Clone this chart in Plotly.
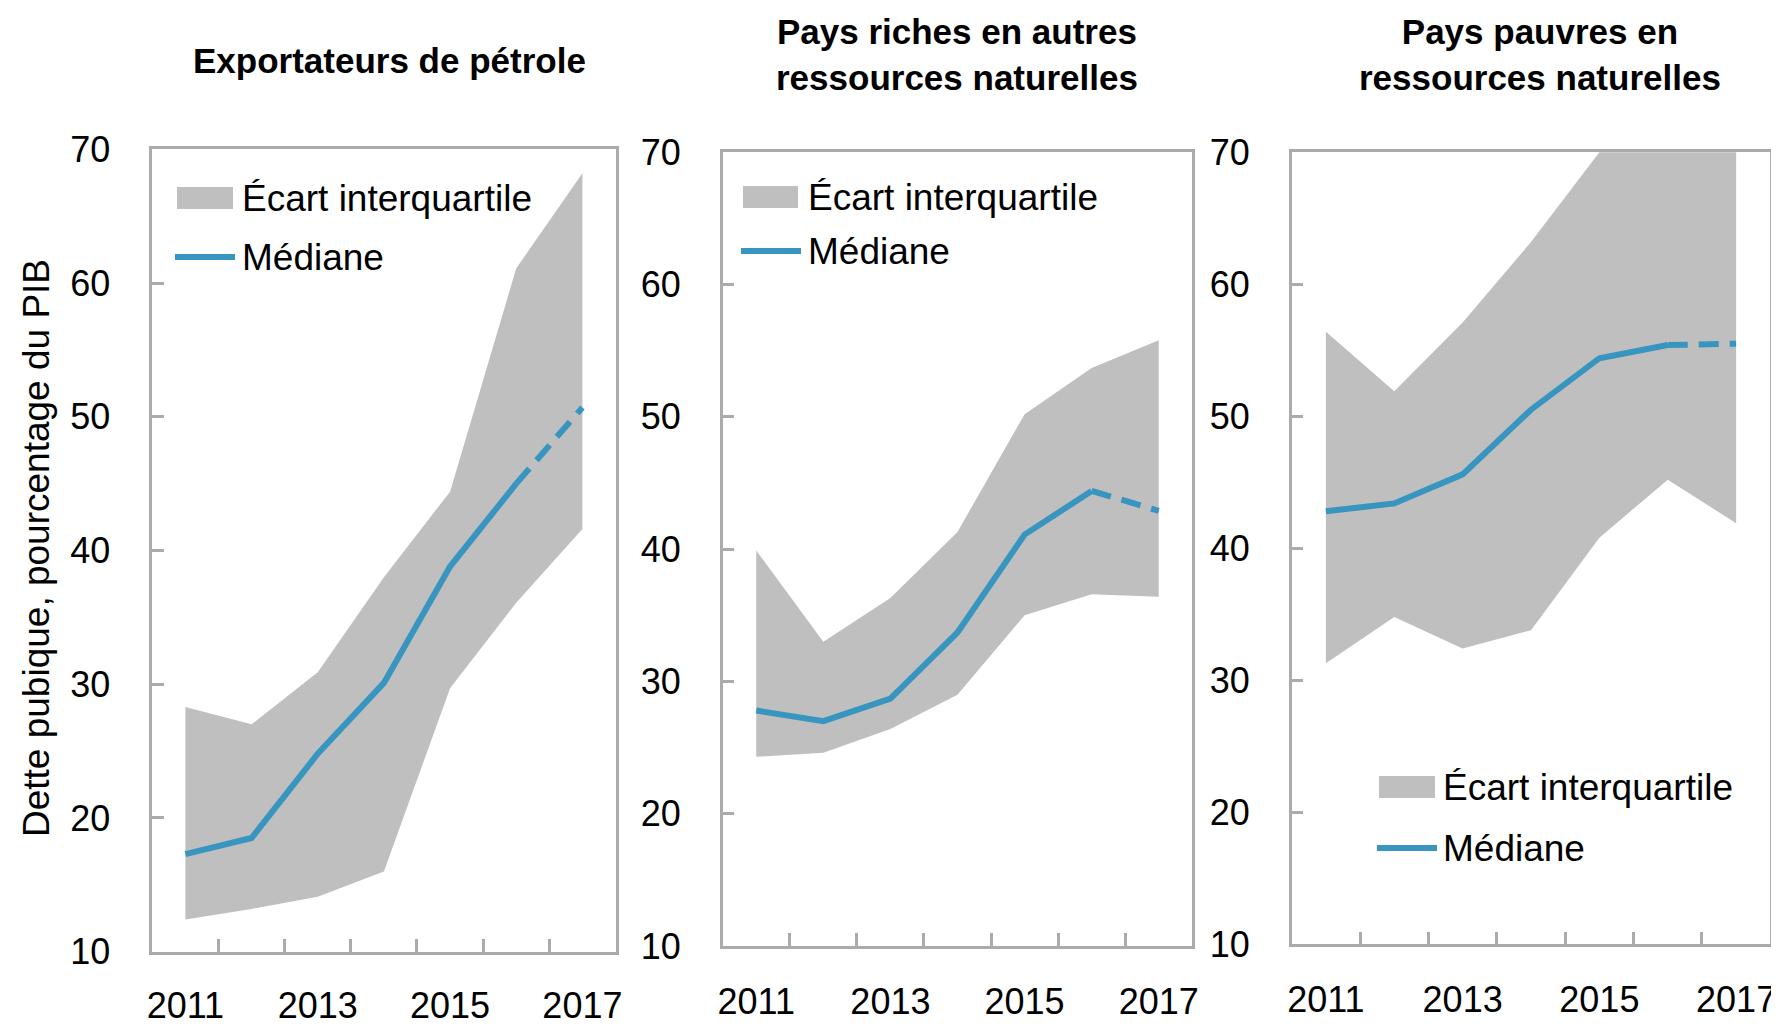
import plotly.graph_objects as go

# page body has an 8px margin: the figure is drawn from (8, 8)
OFF = 8
PAGE_W, PAGE_H = 1779, 1027
W, H = PAGE_W - OFF, PAGE_H - OFF

years = [2011, 2012, 2013, 2014, 2015, 2016, 2017]
year_labels = [2011, 2013, 2015, 2017]
y_ticks = [10, 20, 30, 40, 50, 60, 70]

titles = ["Exportateurs de pétrole",
          "Pays riches en autres<br>ressources naturelles",
          "Pays pauvres en<br>ressources naturelles"]

# Panel 1 : exportateurs de pétrole
oil_median = [17.3, 18.5, 24.8, 30.1, 38.8, 45.0, 50.7]
oil_q75 = [28.3, 27.0, 30.9, 38.0, 44.4, 61.1, 68.2]
oil_q25 = [12.4, 13.2, 14.1, 16.0, 29.7, 36.1, 41.6]

# Panel 2 : riches en autres ressources naturelles
rich_median = [27.8, 27.0, 28.7, 33.7, 41.1, 44.4, 42.9]
rich_q75 = [39.9, 33.0, 36.3, 41.3, 50.2, 53.7, 55.8]
rich_q25 = [24.3, 24.6, 26.4, 29.0, 35.0, 36.6, 36.4]

# Panel 3 : pauvres en ressources naturelles
poor_median = [42.8, 43.4, 45.6, 50.5, 54.4, 55.4, 55.5]
poor_q75 = [56.4, 51.9, 57.1, 63.2, 70.0, 76.0, 80.0]
poor_q25 = [31.3, 34.8, 32.4, 33.8, 40.8, 45.2, 41.9]

legend_labels = ["Écart interquartile", "Médiane"]
y_title = "Dette pubique, pourcentage du PIB"

panels = [
    (oil_median, oil_q75, oil_q25),
    (rich_median, rich_q75, rich_q25),
    (poor_median, poor_q75, poor_q25),
]

# page-pixel boxes of the three plot areas: (left, right, top, bottom)
boxes = [(152.3, 615.5, 149.3, 951.7),
         (722.7, 1192.3, 152.3, 946.0),
         (1291.7, 1770.3, 152.3, 944.3)]
x_label_standoff = [20, 22, 22]

# legend placement per panel (page pixels)
legend_pos = [
    dict(sx0=177, sx1=233, sy=198, ly=257, tx=240, lx0=175, lx1=235),
    dict(sx0=743, sx1=798, sy=197, ly=251, tx=806, lx0=741, lx1=801),
    dict(sx0=1379, sx1=1435, sy=787, ly=848, tx=1441, lx0=1377, lx1=1437),
]

# title centres (x, y) in page pixels
title_pos = [(389, 60), (957, 55), (1540, 54)]

FILL = "#BFBFBF"
BLUE = "#3795BF"
FRAME = "#ABABAB"
FONT = "Liberation Sans, Arial, sans-serif"

def px(x):
    return (x - OFF) / W

def py(y):
    return 1 - (y - OFF) / H

fig = go.Figure()
shapes = []
annotations = []

for i, (med, q75, q25) in enumerate(panels):
    n = i + 1
    xa = "x" if n == 1 else f"x{n}"
    ya = "y" if n == 1 else f"y{n}"
    fig.add_trace(go.Scatter(x=years, y=q25, mode="lines", line=dict(width=0, color=FILL),
                             xaxis=xa, yaxis=ya, showlegend=False, hoverinfo="skip"))
    fig.add_trace(go.Scatter(x=years, y=q75, mode="lines", line=dict(width=0, color=FILL),
                             fill="tonexty", fillcolor=FILL, xaxis=xa, yaxis=ya,
                             showlegend=False, name=legend_labels[0]))
    fig.add_trace(go.Scatter(x=years[:6], y=med[:6], mode="lines",
                             line=dict(width=6, color=BLUE), xaxis=xa, yaxis=ya,
                             showlegend=False, name=legend_labels[1]))
    fig.add_trace(go.Scatter(x=years[5:], y=med[5:], mode="lines",
                             line=dict(width=6, color=BLUE, dash="20px,11px"),
                             xaxis=xa, yaxis=ya, showlegend=False, name=legend_labels[1]))

    l, r, t, b = boxes[i]
    xkey = "xaxis" if n == 1 else f"xaxis{n}"
    ykey = "yaxis" if n == 1 else f"yaxis{n}"
    fig.update_layout(**{
        xkey: dict(domain=[px(l), px(r)], range=[2010.5, 2017.5], anchor=ya,
                   automargin=False,
                   tickvals=year_labels, ticktext=[str(v) for v in year_labels],
                   ticks="", showgrid=False, zeroline=False,
                   showline=True, mirror=True, linecolor=FRAME, linewidth=2.5,
                   tickfont=dict(family=FONT, size=36, color="#000"),
                   ticklabelstandoff=x_label_standoff[i],
                   minor=dict(tickmode="array",
                              tickvals=[2011.5, 2012.5, 2013.5, 2014.5, 2015.5, 2016.5],
                              ticks="inside", ticklen=13, tickwidth=2.5, tickcolor=FRAME,
                              showgrid=False)),
        ykey: dict(domain=[py(b), py(t)], range=[10, 70], anchor=xa,
                   automargin=False,
                   tickvals=y_ticks, ticks="inside", ticklen=12, tickwidth=2.5,
                   tickcolor=FRAME, showgrid=False, zeroline=False,
                   showline=True, mirror=True, linecolor=FRAME, linewidth=2.5,
                   tickfont=dict(family=FONT, size=36, color="#000"),
                   ticklabelstandoff=32),
    })

    lp = legend_pos[i]
    shapes.append(dict(type="rect", xref="paper", yref="paper",
                       x0=px(lp["sx0"]), x1=px(lp["sx1"]),
                       y0=py(lp["sy"] + 11), y1=py(lp["sy"] - 11),
                       fillcolor=FILL, line=dict(width=0)))
    shapes.append(dict(type="line", xref="paper", yref="paper",
                       x0=px(lp["lx0"]), x1=px(lp["lx1"]),
                       y0=py(lp["ly"]), y1=py(lp["ly"]),
                       line=dict(color=BLUE, width=6)))
    annotations.append(dict(text=legend_labels[0], x=px(lp["tx"]), y=py(lp["sy"]),
                            xref="paper", yref="paper", xanchor="left", yanchor="middle",
                            showarrow=False, font=dict(family=FONT, size=37, color="#000")))
    annotations.append(dict(text=legend_labels[1], x=px(lp["tx"]), y=py(lp["ly"]),
                            xref="paper", yref="paper", xanchor="left", yanchor="middle",
                            showarrow=False, font=dict(family=FONT, size=37, color="#000")))

    tx, ty = title_pos[i]
    annotations.append(dict(text=f"<b>{titles[i]}</b>", x=px(tx), y=py(ty),
                            xref="paper", yref="paper", xanchor="center", yanchor="middle",
                            showarrow=False, align="center",
                            font=dict(family=FONT, size=35, color="#000")))

annotations.append(dict(text=y_title, x=px(36), y=py(548), xref="paper", yref="paper",
                        xanchor="center", yanchor="middle", textangle=-90, showarrow=False,
                        font=dict(family=FONT, size=37, color="#000")))

fig.update_layout(width=W, height=H, margin=dict(l=0, r=0, t=0, b=0, autoexpand=False),
                  paper_bgcolor="white", plot_bgcolor="white",
                  shapes=shapes, annotations=annotations, showlegend=False)

fig.write_html("out.html")
